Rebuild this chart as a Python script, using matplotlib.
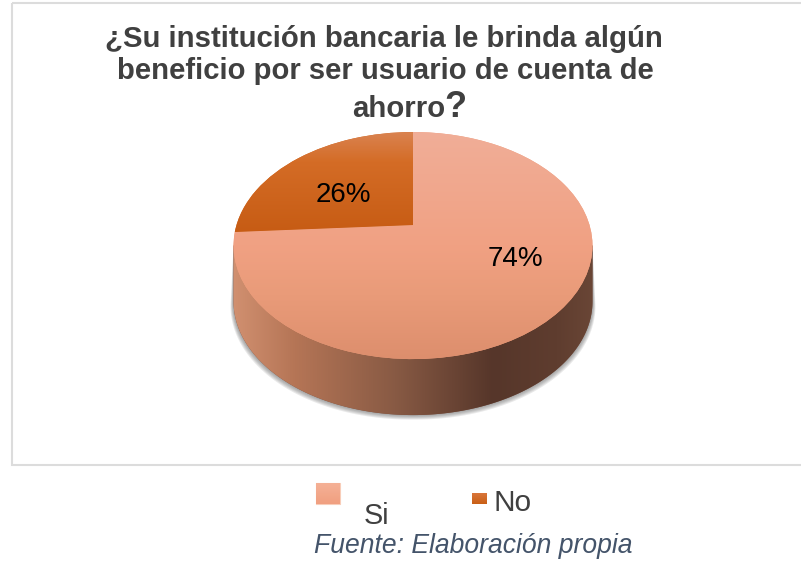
import numpy as np
import matplotlib
matplotlib.use("Agg")
import matplotlib.pyplot as plt
from matplotlib.path import Path
from matplotlib.patches import PathPatch, Rectangle
from matplotlib.transforms import Transform
from matplotlib.colors import LinearSegmentedColormap as LSC

plt.rcParams['font.family'] = ['Liberation Sans', 'DejaVu Sans']

# ---- data ----
categories = ["Si", "No"]
values = [74, 26]
title_lines = ["¿Su institución bancaria le brinda algún",
               "beneficio por ser usuario de cuenta de"]
title_last = "ahorro"
source = "Fuente: Elaboración propia"

# ---- style ----
W, H = 801, 561
CX, CY = 413.0, 225.0   # apex of the slices, px
K, AX, AY = 0.181, 176.5, 109.8  # perspective of the tilted disc
DEPTH = 56


class Persp(Transform):
    input_dims = output_dims = 2
    is_separable = False
    has_inverse = False

    def transform_non_affine(self, pts):
        pts = np.asarray(pts, float)
        s = 1 + K * pts[:, 1]
        return np.column_stack([CX + AX * pts[:, 0] / s, CY - AY * pts[:, 1] / s])


persp = Persp()
fig = plt.figure(figsize=(W / 100, H / 100), dpi=100)
ax = fig.add_axes([0, 0, 1, 1])

wedges, _, autotexts = ax.pie(values, startangle=90, counterclock=False,
                              autopct=lambda p: f"{p:.0f}%",
                              colors=["#f0a080", "#d0651c"],
                              wedgeprops=dict(linewidth=0, zorder=3))
ax.set_aspect('auto')
for w in wedges:
    w.set_transform(persp + ax.transData)


def vgrad(stops, extent, clip, z=4, horizontal=False):
    cmap = LSC.from_list("g", stops)
    g = np.linspace(0, 1, 256)
    arr = g[None, :] if horizontal else g[:, None]
    im = ax.imshow(arr, cmap=cmap, extent=extent, aspect='auto', zorder=z,
                   origin='upper', interpolation='bilinear')
    im.set_clip_path(clip)
    return im


# top face gradients
vgrad([(0, "#f0ae98"), (0.5, "#f1a183"), (0.72, "#e99b79"), (1, "#dd8e6d")],
      (230, 600, 360, 130), wedges[0])
vgrad([(0, "#da8453"), (0.3, "#d46c26"), (1, "#c65b13")],
      (230, 420, 236, 130), wedges[1])

# side wall
k = np.arcsin(K)
t = np.linspace(np.pi + k, 2 * np.pi - k, 200)
rim = persp.transform_non_affine(np.column_stack([np.cos(t), np.sin(t)]))
low = rim + [0, DEPTH]
side_pts = np.vstack([rim[:1], low, rim[-1:], rim[:1]])
side_path = Path(side_pts, closed=True)

# soft shadow
for i in range(5, 0, -1):
    sp = low + np.column_stack([np.sign(low[:, 0] - CX) * i * 0.6,
                                np.full(len(low), i * 0.9)])
    ax.add_patch(PathPatch(Path(np.vstack([rim[:1], sp, rim[-1:], rim[:1]]), closed=True),
                           fc="#5a5a5a", ec="none", alpha=0.13, zorder=1))
side = PathPatch(side_path, fc="#7a5040", ec="none", zorder=2)
ax.add_patch(side)
vgrad([(0, "#d19070"), (0.17, "#b57556"), (0.45, "#885a44"),
       (0.72, "#56362a"), (0.9, "#5f3d2f"), (1, "#6a4636")],
      (233, 594, 420, 240), side, z=2.5, horizontal=True)

# frame
ax.add_patch(Rectangle((12, 3), 800, 462, fc="none", ec="#dcdcdc", lw=1.5, zorder=0))

# value labels
for txt, pos in zip(autotexts, [(515, 259), (343, 195)]):
    txt.set_position(pos)
    txt.set_ha('center')
    txt.set_va('center')
    txt.set_fontsize(20)
    txt.set_color("#000000")
    txt.set_zorder(6)

# title
tc = "#404040"
ax.text(384, 47, title_lines[0], fontsize=21.2, fontweight='bold', color=tc, ha='center', va='baseline')
ax.text(385, 79, title_lines[1], fontsize=21.1, fontweight='bold', color=tc, ha='center', va='baseline')
ax.text(352, 117, title_last, fontsize=21.2, fontweight='bold', color=tc, ha='left', va='baseline')
ax.text(444, 117, "?", fontsize=26, fontweight='bold', color=tc, ha='left', va='baseline')

# legend
si = Rectangle((316, 483), 24, 21, fc="#f2a587", ec="#f8cdb9", lw=0.8, zorder=3)
ax.add_patch(si)
vgrad([(0, "#f5b196"), (1, "#f09f80")], (316, 340, 504, 483), si)
no = Rectangle((472, 493), 15, 11, fc="#d0651c", ec="none", zorder=3)
ax.add_patch(no)
vgrad([(0, "#d9763a"), (1, "#c95f16")], (472, 487, 504, 493), no)
ax.text(364, 524, categories[0], fontsize=20.8, color=tc, ha='left', va='baseline')
ax.text(494, 511, categories[1], fontsize=21.5, color=tc, ha='left', va='baseline')

# source
ax.text(314, 553, source, fontsize=19.1, style='italic', color="#44546a", ha='left', va='baseline')

ax.set_xlim(0, W)
ax.set_ylim(H, 0)
ax.axis('off')
fig.savefig("out.png", dpi=100)
